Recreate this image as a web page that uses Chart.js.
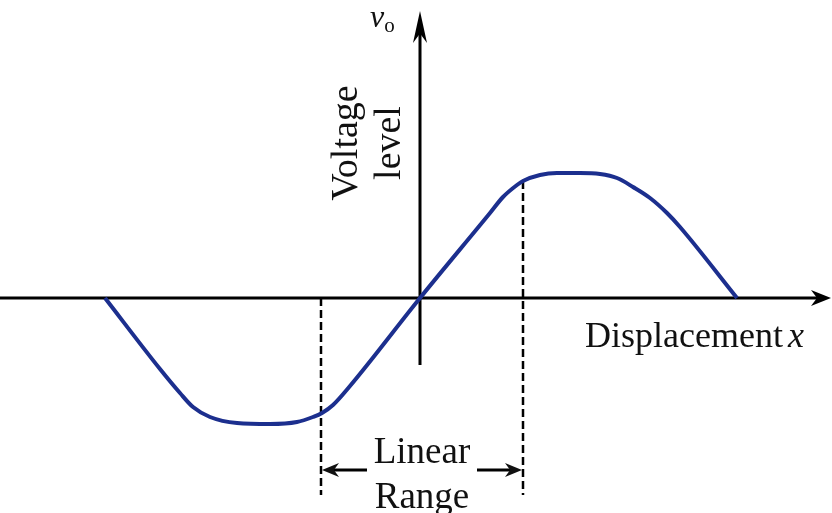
<!DOCTYPE html>
<html>
<head>
<meta charset="utf-8">
<script src="https://cdn.jsdelivr.net/npm/chart.js@4"></script>
<style>
  html, body { margin: 0; padding: 0; background: #fff; }
  #wrap { width: 832px; height: 513px; position: relative; }
</style>
</head>
<body>
<div id="wrap"><canvas id="chart"></canvas></div>
<script>
// displacement x and output voltage vo (arbitrary units, origin at axis crossing)
const curveX = [-3.15, -2.60, -2.40, -2.27, -2.10, -1.83, -1.50, -1.23, -1.07, -0.98, -0.87, -0.70, 0, 0.70, 0.83, 0.97, 1.03, 1.20, 1.37, 1.60, 1.80, 1.97, 2.13, 2.30, 2.47, 2.60, 3.17];
const curveV = [0, -0.71, -0.95, -1.09, -1.19, -1.25, -1.26, -1.24, -1.19, -1.15, -1.07, -0.88, 0, 0.85, 1.01, 1.13, 1.17, 1.23, 1.25, 1.25, 1.24, 1.20, 1.11, 1.00, 0.85, 0.71, 0];
// edges of the linear range: x and the level where each dashed line starts
const rangeX = [-0.99, 1.03];
const rangeV = [0, 1.17];

const xTitle = 'Displacement ';
const xVar = 'x';
const yVar = 'v';
const yVarSub = 'o';
const yTitle = ['Voltage', 'level'];
const rangeLabel = ['Linear', 'Range'];

// layout (data units)
const X_MIN = -4.20, X_MAX = 4.12, Y_MIN = -2.15, Y_MAX = 2.98;
const DASH_BOTTOM = -1.97;
const ARROW_Y = -1.72;
const SERIF = '"Liberation Serif", "Times New Roman", serif';

function arrowHead(ctx, x, y, angle, len, half) {
  ctx.save();
  ctx.translate(x, y);
  ctx.rotate(angle);
  ctx.beginPath();
  ctx.moveTo(0, 0);
  ctx.lineTo(-len, -half);
  ctx.lineTo(-len * 0.7, 0);
  ctx.lineTo(-len, half);
  ctx.closePath();
  ctx.fill();
  ctx.restore();
}

const diagram = {
  id: 'diagram',
  beforeDatasetsDraw(chart) {
    const { ctx, scales: { x, y } } = chart;
    const x0 = x.getPixelForValue(0), y0 = y.getPixelForValue(0);
    ctx.save();
    ctx.strokeStyle = '#000';
    ctx.fillStyle = '#000';
    ctx.lineWidth = 3;
    // horizontal axis
    const xEnd = x.getPixelForValue(4.11);
    ctx.beginPath();
    ctx.moveTo(x.getPixelForValue(X_MIN), y0);
    ctx.lineTo(xEnd - 10, y0);
    ctx.stroke();
    arrowHead(ctx, xEnd, y0, 0, 20, 8);
    // vertical axis
    const yTop = y.getPixelForValue(2.87);
    ctx.beginPath();
    ctx.moveTo(x0, y.getPixelForValue(-0.67));
    ctx.lineTo(x0, yTop + 12);
    ctx.stroke();
    arrowHead(ctx, x0, yTop, -Math.PI / 2, 32, 7);
    ctx.restore();
  },
  afterDatasetsDraw(chart) {
    const { ctx, scales: { x, y } } = chart;
    ctx.save();
    ctx.fillStyle = '#111';
    ctx.strokeStyle = '#000';

    // linear range arrows
    const ay = y.getPixelForValue(ARROW_Y);
    ctx.lineWidth = 3;
    const lTip = x.getPixelForValue(rangeX[0]) + 1, lTail = x.getPixelForValue(-0.53);
    const rTip = x.getPixelForValue(rangeX[1]) - 1, rTail = x.getPixelForValue(0.57);
    ctx.beginPath();
    ctx.moveTo(lTail, ay); ctx.lineTo(lTip + 8, ay);
    ctx.moveTo(rTail, ay); ctx.lineTo(rTip - 8, ay);
    ctx.stroke();
    arrowHead(ctx, lTip, ay, Math.PI, 17, 7);
    arrowHead(ctx, rTip, ay, 0, 17, 7);

    // texts
    ctx.font = '37px ' + SERIF;
    ctx.textAlign = 'center';
    ctx.textBaseline = 'alphabetic';
    ctx.fillText(rangeLabel[0], x.getPixelForValue(0.02), y.getPixelForValue(-1.65));
    ctx.fillText(rangeLabel[1], x.getPixelForValue(0.02), y.getPixelForValue(-2.10));

    ctx.font = '36px ' + SERIF;
    ctx.textAlign = 'left';
    const tx = x.getPixelForValue(1.65), ty = y.getPixelForValue(-0.49);
    ctx.fillText(xTitle, tx, ty);
    const w = ctx.measureText(xTitle).width;
    ctx.font = 'italic 36px ' + SERIF;
    ctx.fillText(xVar, tx + w - 4, ty);

    // vo
    const vx = x.getPixelForValue(-0.50), vy = y.getPixelForValue(2.71);
    ctx.font = 'italic 32px ' + SERIF;
    ctx.fillText(yVar, vx, vy);
    const vw = ctx.measureText(yVar).width;
    ctx.font = '21px ' + SERIF;
    ctx.fillText(yVarSub, vx + vw, vy + 5);

    // rotated title
    ctx.font = '38px ' + SERIF;
    ctx.textAlign = 'center';
    [[-0.63, yTitle[0]], [-0.20, yTitle[1]]].forEach(([bx, s]) => {
      ctx.save();
      ctx.translate(x.getPixelForValue(bx), y.getPixelForValue(1.55));
      ctx.rotate(-Math.PI / 2);
      ctx.fillText(s, 0, 0);
      ctx.restore();
    });
    ctx.restore();
  }
};

const pts = curveX.map((v, i) => ({ x: v, y: curveV[i] }));
const dashed = (i) => ({
  data: [{ x: rangeX[i], y: rangeV[i] }, { x: rangeX[i], y: DASH_BOTTOM }],
  borderColor: '#000', borderWidth: 2.5, borderDash: [8, 4],
  pointRadius: 0, order: 2
});

new Chart(document.getElementById('chart'), {
  type: 'line',
  data: {
    datasets: [
      dashed(0),
      dashed(1),
      {
        data: pts,
        borderColor: '#1c2f8e', borderWidth: 4,
        cubicInterpolationMode: 'monotone',
        pointRadius: 0, order: 1
      }
    ]
  },
  options: {
    responsive: true,
    maintainAspectRatio: false,
    animation: false,
    layout: { padding: 0 },
    plugins: { legend: { display: false }, tooltip: { enabled: false } },
    scales: {
      x: { type: 'linear', min: X_MIN, max: X_MAX, display: false },
      y: { type: 'linear', min: Y_MIN, max: Y_MAX, display: false }
    }
  },
  plugins: [diagram]
});
</script>
</body>
</html>
